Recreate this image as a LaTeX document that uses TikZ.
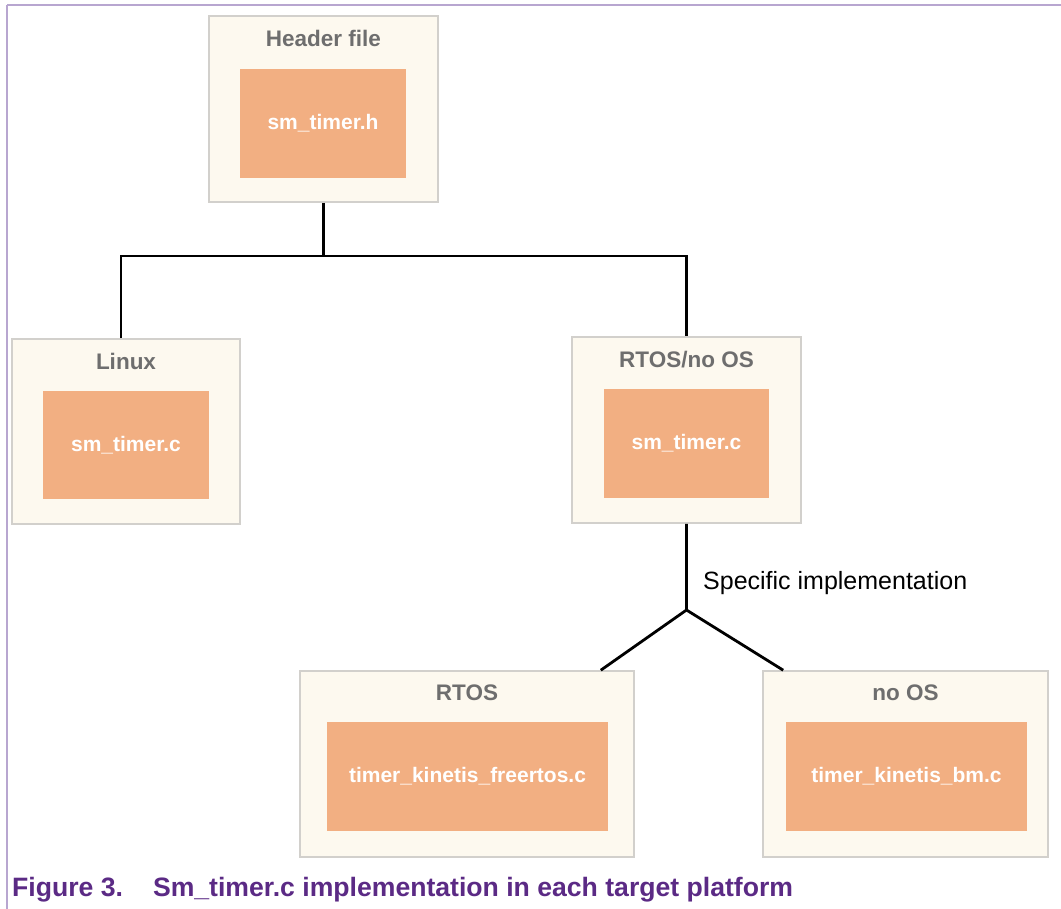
\documentclass[tikz,border=0pt]{standalone}
\usepackage{fontspec}
\setmainfont{Liberation Sans}
\definecolor{outerfill}{HTML}{FDF9EF}
\definecolor{outerdraw}{HTML}{D2D0CC}
\definecolor{innerfill}{HTML}{F2AF82}
\definecolor{titlegray}{HTML}{6E6E6E}
\definecolor{nxppurple}{HTML}{5B2A85}
\definecolor{framepurple}{HTML}{B8A6D0}
\tikzset{
  outerbox/.style={draw=outerdraw, line width=1.6pt, fill=outerfill, inner sep=0pt, rectangle},
  innerbox/.style={fill=innerfill, inner sep=0pt, rectangle, text=white, font=\fontsize{21}{25}\selectfont\bfseries},
  boxtitle/.style={text=titlegray, inner sep=0pt, font=\fontsize{22.5}{27}\selectfont\bfseries},
  conn/.style={black, line width=2.8pt},
}
\begin{document}
\begin{tikzpicture}[x=1pt,y=-1pt]
\useasboundingbox (0,0) rectangle (1061,909);
\fill[white] (0,0) rectangle (1061,909);
% frame lines
\draw[framepurple, line width=2pt] (7,5) -- (1061,5);
\draw[framepurple, line width=2pt] (7,5) -- (7,909);

% Header
\node[outerbox, minimum width=229pt, minimum height=186pt] (hdr) at (323.5,109) {};
\node[boxtitle] (hdrt) at (323.5,38) {Header file};
\node[innerbox, minimum width=166pt, minimum height=109pt] (hdri) at (323,123.5) {sm\_timer.h};

% Linux
\node[outerbox, minimum width=228pt, minimum height=185pt] (lin) at (126,431.5) {};
\node[boxtitle] (lint) at (126,361) {Linux};
\node[innerbox, minimum width=166pt, minimum height=108pt] (lini) at (126,445) {sm\_timer.c};

% RTOS/no OS
\node[outerbox, minimum width=229pt, minimum height=186pt] (rno) at (686.5,430) {};
\node[boxtitle] (rnot) at (686.5,360) {RTOS/no OS};
\node[innerbox, minimum width=165pt, minimum height=109pt] (rnoi) at (686.5,443.5) {sm\_timer.c};

% RTOS
\node[outerbox, minimum width=334pt, minimum height=186pt] (rtos) at (467,764) {};
\node[boxtitle] (rtost) at (467,693) {RTOS};
\node[innerbox, minimum width=281pt, minimum height=109pt] (rtosi) at (467.5,776.5) {timer\_kinetis\_freertos.c};

% no OS
\node[outerbox, minimum width=285pt, minimum height=186pt] (noos) at (905.5,764) {};
\node[boxtitle] (noost) at (905.5,693) {no OS};
\node[innerbox, minimum width=241pt, minimum height=109pt] (noosi) at (906.5,776.5) {timer\_kinetis\_bm.c};

% connectors
\coordinate (j1) at (323.5,256);
\coordinate (j2) at (689,610);
\draw[conn] (hdr.south) -- (j1);
\draw[conn] ([xshift=-5pt]lin.north) |- (j1) -| (rno.north);
\draw[conn] (rno.south) -- (rno.south |- j2) -- ([xshift=-34pt]rtos.north east);
\draw[conn] (rno.south |- j2) -- ([xshift=21pt]noos.north west);
\node[anchor=west, inner sep=0pt, font=\fontsize{25}{30}\selectfont] (spec) at (703,583) {Specific implementation};

% caption
\node[anchor=base west, inner sep=0pt, text=nxppurple, font=\fontsize{26.6}{32}\selectfont\bfseries] (cap) at (12,896) {Figure 3.\hspace{30pt}Sm\_timer.c implementation in each target platform};
\end{tikzpicture}
\end{document}
